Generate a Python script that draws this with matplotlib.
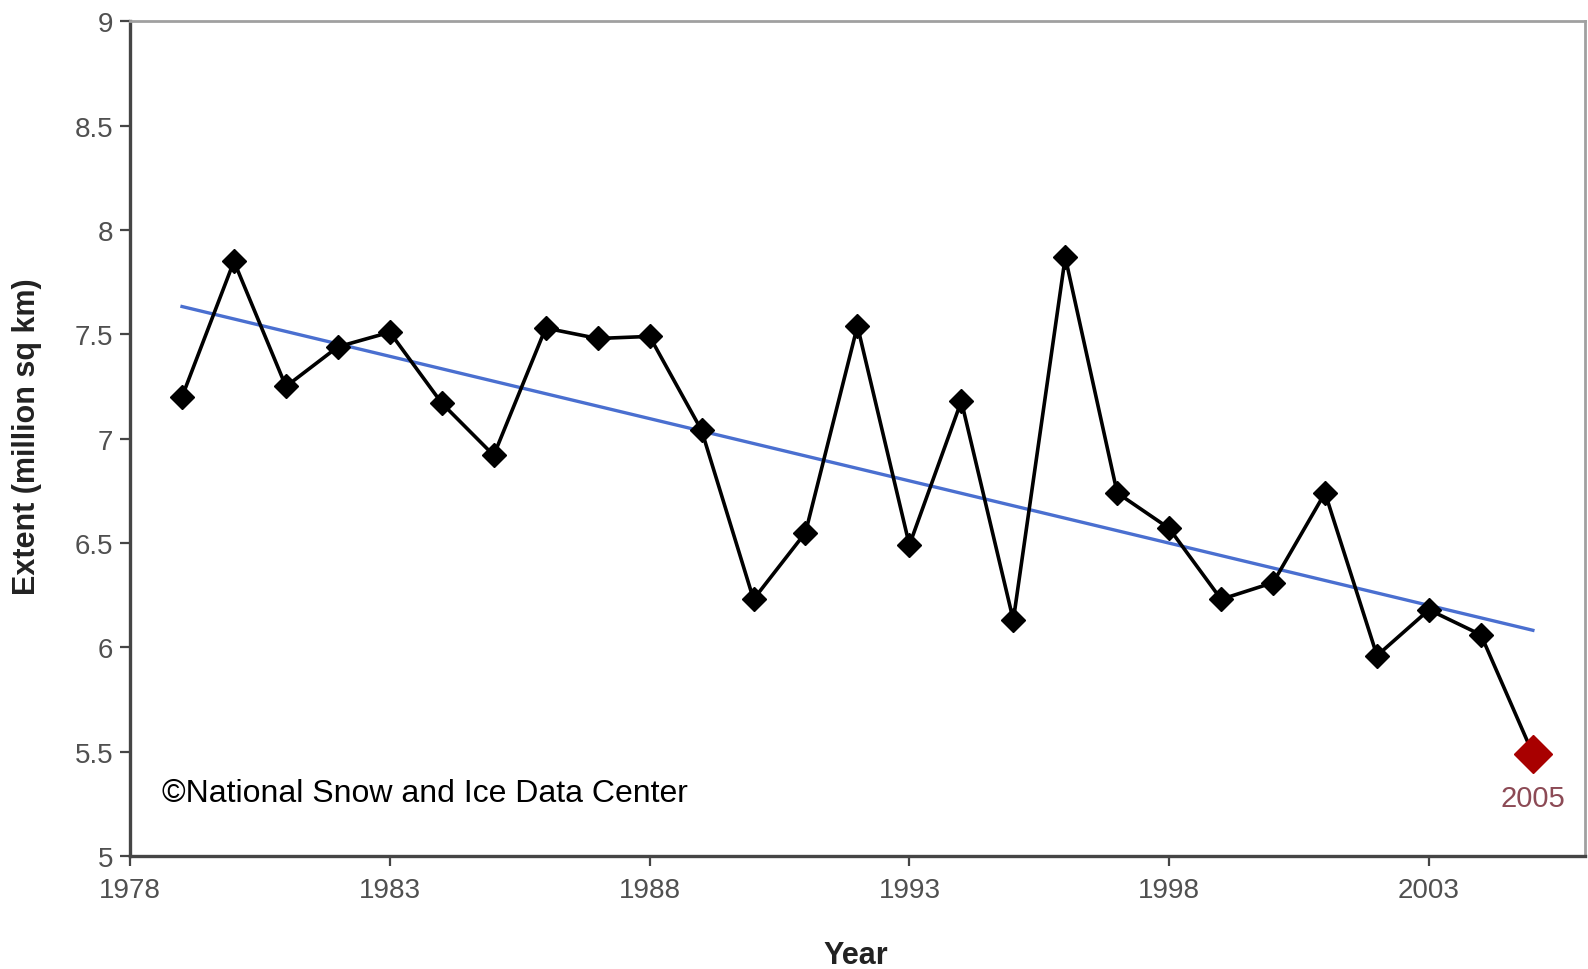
import numpy as np
import matplotlib.pyplot as plt

# September sea ice extent, million sq km
years = list(range(1979, 2006))
extent = [7.20, 7.85, 7.25, 7.44, 7.51, 7.17, 6.92, 7.53, 7.48, 7.49,
          7.04, 6.23, 6.55, 7.54, 6.49, 7.18, 6.13, 7.87, 6.74, 6.57,
          6.23, 6.31, 6.74, 5.96, 6.18, 6.06, 5.49]

xticks = [1978, 1983, 1988, 1993, 1998, 2003]
yticks = [5, 5.5, 6, 6.5, 7, 7.5, 8, 8.5, 9]
ytick_labels = ['5', '5.5', '6', '6.5', '7', '7.5', '8', '8.5', '9']

plt.rcParams['font.family'] = ['Liberation Sans', 'DejaVu Sans']

fig = plt.figure(figsize=(15.88, 9.70), dpi=100)
ax = fig.add_axes([0.0819, 0.1165, 0.9161, 0.8605])

# linear trend
coef = np.polyfit(years, extent, 1)
trend_x = [years[0], years[-1]]
trend_y = np.polyval(coef, trend_x)
ax.plot(trend_x, trend_y, color='#4a6fd0', lw=2.4, zorder=2)

ax.plot(years[:-1], extent[:-1], color='black', lw=2.6, marker='D', ms=12.5, zorder=3)
ax.plot(years[-2:], extent[-2:], color='black', lw=2.6, zorder=3)
ax.plot(years[-1], extent[-1], marker='D', ms=19, color='#a80000', ls='none', zorder=4)

ax.annotate(str(years[-1]), (years[-1], extent[-1]), xytext=(0, -32), textcoords='offset points',
            ha='center', va='center', fontsize=21, color='#8c4a55')

ax.text(0.022, 0.075, '\u00a9National Snow and Ice Data Center', transform=ax.transAxes,
        fontsize=23, color='black', ha='left', va='center')

ax.set_xlim(1978, 2006)
ax.set_ylim(5, 9)
ax.set_xticks(xticks)
ax.set_yticks(yticks)
ax.set_yticklabels(ytick_labels)

for s in ['left', 'bottom']:
    ax.spines[s].set_color('#454545')
    ax.spines[s].set_linewidth(2.4)
for s in ['top', 'right']:
    ax.spines[s].set_color('#a0a0a0')
    ax.spines[s].set_linewidth(2.0)

ax.tick_params(axis='both', direction='out', length=7, width=1.6, color='#454545',
               labelsize=20, labelcolor='#505050')
ax.tick_params(axis='x', pad=8)
ax.tick_params(axis='y', pad=5)

fig.text(0.539, 0.014, 'Year', fontsize=22, fontweight='bold', ha='center', va='center', color='#222222')
fig.text(0.017, 0.55, 'Extent (million sq km)', fontsize=22, fontweight='bold', rotation=90,
         ha='center', va='center', color='#222222')

fig.savefig('out.png', dpi=100)
